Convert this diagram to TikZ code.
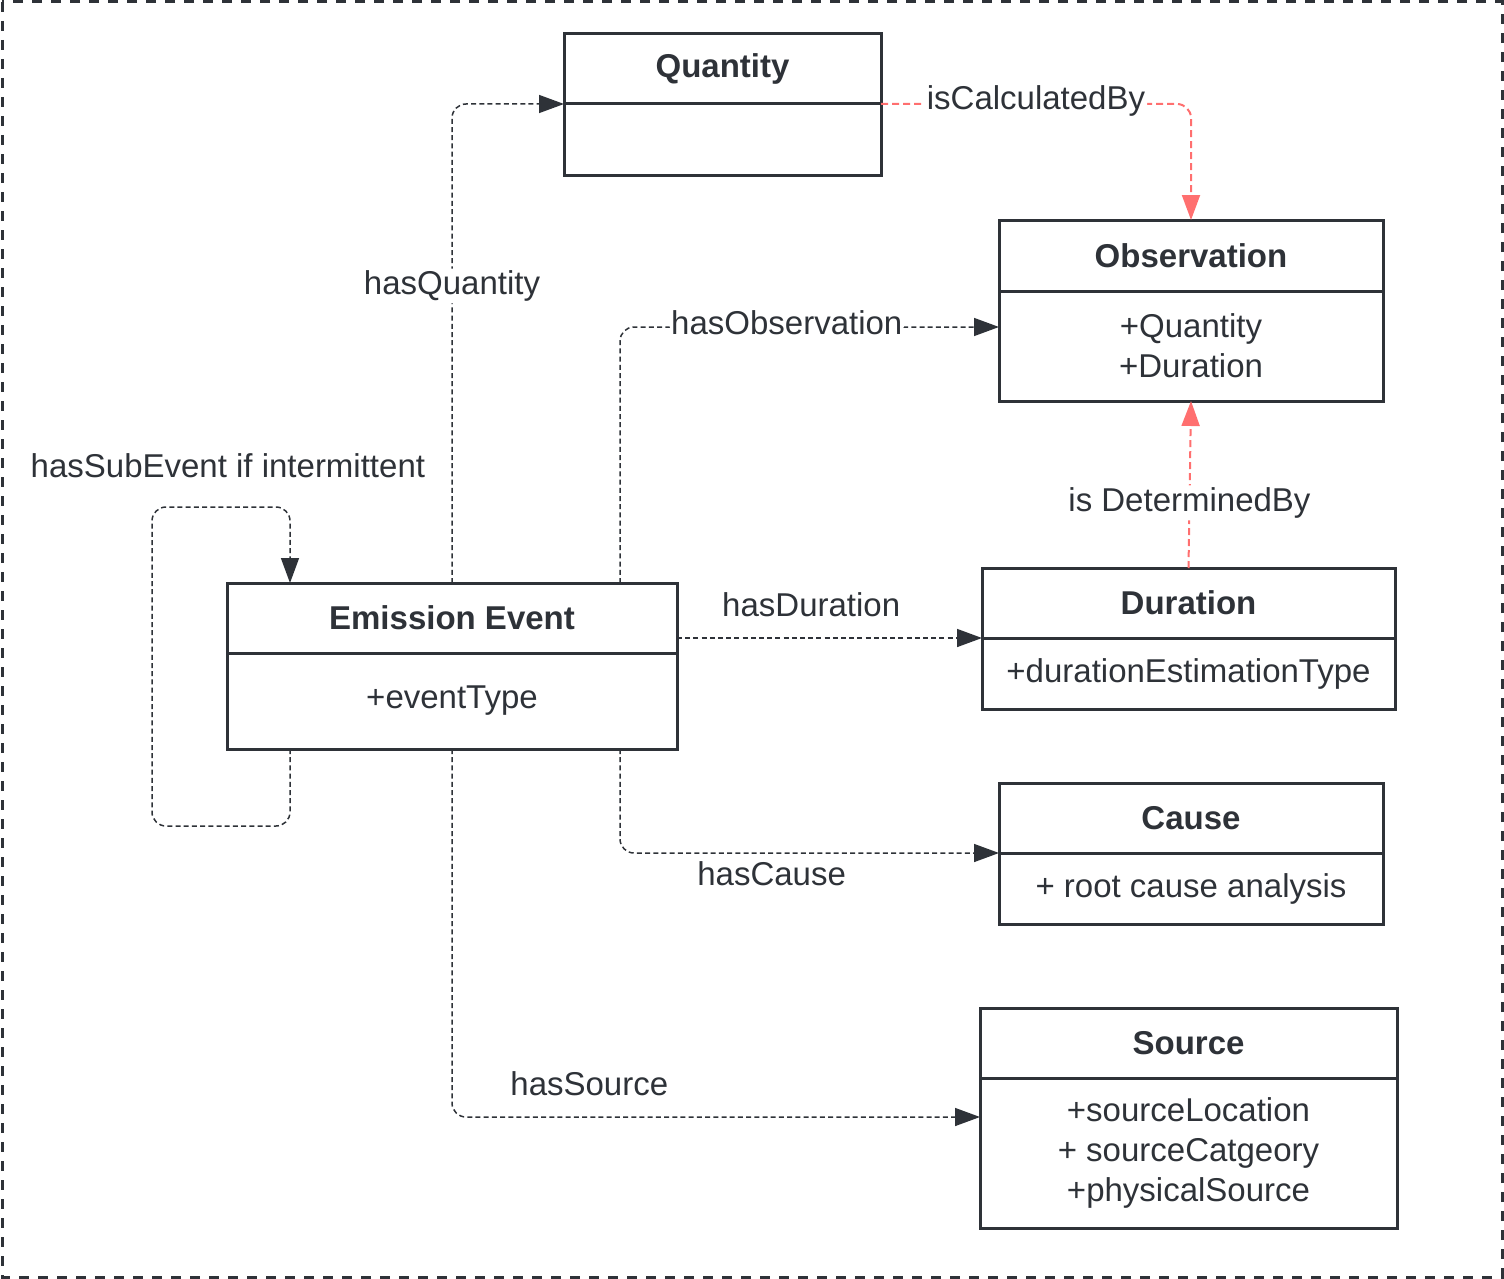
\documentclass[tikz,border=0pt]{standalone}
\usepackage{fontspec}
\setmainfont{Liberation Sans}
\usetikzlibrary{arrows.meta, positioning}
\definecolor{umlDark}{HTML}{2E3238}
\definecolor{umlRed}{HTML}{FF6F6F}
\tikzset{
    font=\fontsize{16.5}{20}\selectfont,
    >={Triangle[length=12.5pt, width=9pt]},
    % Shapes
    classHead/.style={rectangle, draw=umlDark, line width=1.5pt, text=umlDark,
                      font=\fontsize{16.5}{20}\selectfont\bfseries, outer sep=0pt,
                      minimum height=35pt, inner sep=0pt, anchor=north west},
    classBody/.style={rectangle, draw=umlDark, line width=1.5pt, text=umlDark,
                      outer sep=0pt, align=center, inner sep=0pt},
    frame/.style={draw=umlDark, line width=1.5pt, dash pattern=on 5pt off 4.5pt},
    % Flow & Labels
    flow/.style={->, umlDark, line width=0.75pt, dash pattern=on 2.5pt off 1.6pt, rounded corners=7pt},
    flowRed/.style={->, umlRed, line width=1pt, dash pattern=on 3.5pt off 2pt, rounded corners=7pt},
    lbl/.style={fill=white, text=umlDark, inner sep=1pt}
}

\begin{document}
\begin{tikzpicture}[x=0.5pt, y=-0.5pt]

\useasboundingbox (0,0) rectangle (1504,1279);
\draw[frame] (2,2) rectangle (1502,1277);

% Classes
\node[classHead, minimum width=158.5pt] (qtyHead) at (564,34) {Quantity};
\node[classBody, minimum width=158.5pt, minimum height=35.5pt, below=0pt of qtyHead] (qtyBody) {};

\node[classHead, minimum width=192pt, minimum height=35.5pt] (obsHead) at (999,220) {Observation};
\node[classBody, minimum width=192pt, minimum height=55pt, below=0pt of obsHead] (obsBody) {+Quantity\\+Duration};

\node[classHead, minimum width=225pt] (evtHead) at (227,583) {Emission Event};
\node[classBody, minimum width=225pt, minimum height=48pt, below=0pt of evtHead] (evtBody) {+eventType};

\node[classHead, minimum width=206.5pt] (durHead) at (982,568) {Duration};
\node[classBody, minimum width=206.5pt, minimum height=35.5pt, below=0pt of durHead] (durBody) {+durationEstimationType};

\node[classHead, minimum width=192pt] (cauHead) at (999,783) {Cause};
\node[classBody, minimum width=192pt, minimum height=35.5pt, below=0pt of cauHead] (cauBody) {+ root cause analysis};

\node[classHead, minimum width=208.5pt] (srcHead) at (980,1008) {Source};
\node[classBody, minimum width=208.5pt, minimum height=75pt, below=0pt of srcHead] (srcBody) {+sourceLocation\\+ sourceCatgeory\\+physicalSource};

% Relations
\draw[flow] (evtHead.north) |- node[lbl, pos=0.31] {hasQuantity} (qtyHead.south west);
\draw[flow] ([xshift=84pt]evtHead.north) |- node[lbl, pos=0.72, yshift=2pt] {hasObservation} ([yshift=-18pt]obsHead.south west);
\draw[flow] (durHead.south west -| evtHead.east) -- node[lbl, above=9pt, pos=0.44] {hasDuration} (durHead.south west);
\draw[flow] ([xshift=84pt]evtBody.south) |- node[lbl, below=3pt, pos=0.70] {hasCause} (cauHead.south west);
\draw[flow] (evtBody.south) |- node[lbl, above=9pt, pos=0.63] {hasSource} ([yshift=-19.5pt]srcHead.south west);
\draw[flow] ([xshift=-81pt]evtBody.south) -- ++(0,77) -- ++(-138,0) -- ++(0,-319)
    -- node[lbl, above=13pt, pos=0.55] {hasSubEvent if intermittent} ++(138,0) -- ([xshift=-81pt]evtHead.north);

\draw[flowRed] (qtyHead.south east) -| node[lbl, pos=0.25, yshift=1.5pt] {isCalculatedBy} (obsHead.north);
\draw[flowRed] (durHead.north) -- node[lbl, pos=0.39] {is DeterminedBy} (obsBody.south);

\end{tikzpicture}
\end{document}
